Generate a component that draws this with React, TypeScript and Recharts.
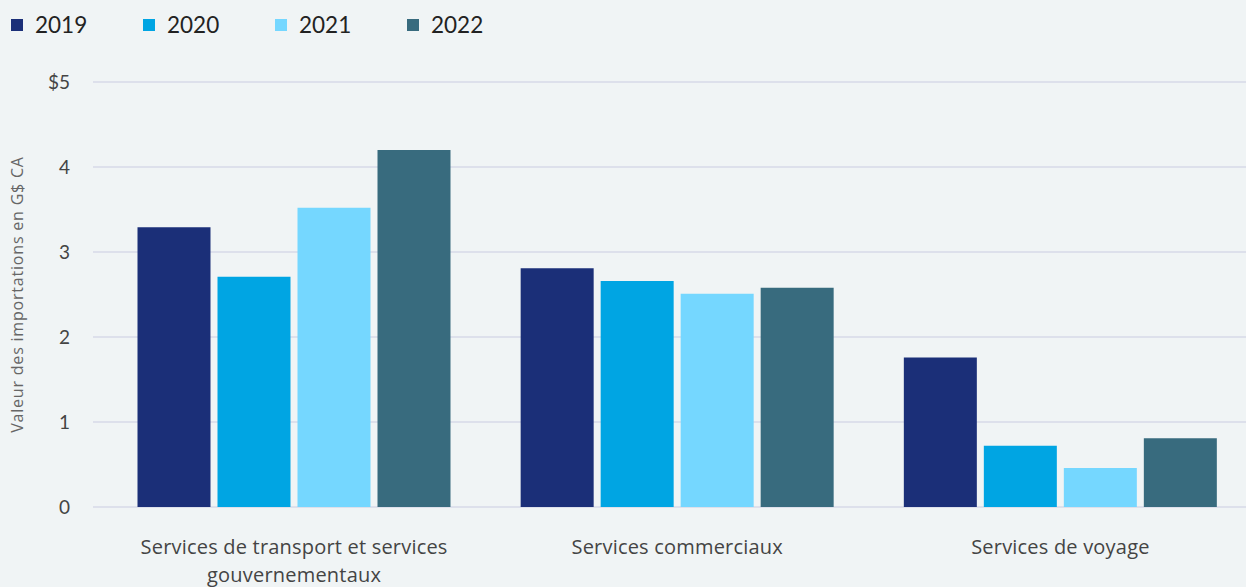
import React from 'react'
import { BarChart, Bar, XAxis, YAxis, CartesianGrid, Label, Text } from 'recharts'

const categories = ['Services de transport et services gouvernementaux', 'Services commerciaux', 'Services de voyage']
const years = ['2019', '2020', '2021', '2022']
const v2019 = [3.29, 2.81, 1.76]
const v2020 = [2.71, 2.66, 0.72]
const v2021 = [3.52, 2.51, 0.46]
const v2022 = [4.2, 2.58, 0.81]
const yTicks = [0, 1, 2, 3, 4, 5]
const colors = ['#1b2f78', '#00a5e3', '#75d7ff', '#386b7e']

const data = categories.map((c, i) => ({
  name: c, y2019: v2019[i], y2020: v2020[i], y2021: v2021[i], y2022: v2022[i],
}))

const font = 'Lato, "Open Sans", sans-serif'
const labelFont = '"Open Sans", sans-serif'

function CatTick(props: any) {
  const { x, y, payload } = props
  return <Text x={x} y={y + 25} width={345} textAnchor="middle" verticalAnchor="start"
    lineHeight={28} style={{ fontSize: 20, fontFamily: labelFont, letterSpacing: 0.2 }} fill="#444">{payload.value}</Text>
}

export default function App() {
  return <div style={{ position: 'fixed', left: 0, top: 0, width: 1246, height: 587, background: '#f0f4f5', overflow: 'hidden', fontFamily: font }}>
    <div style={{ position: 'absolute', left: 11, top: 10, display: 'flex' }}>
      {years.map((y, i) => <div key={y} style={{ width: 132, display: 'flex', alignItems: 'center' }}>
        <span style={{ width: 12, height: 12, background: colors[i], marginRight: 12 }} />
        <span style={{ fontSize: 22.5, color: '#222', lineHeight: '30px' }}>{y}</span>
      </div>)}
    </div>
    <BarChart width={1252} height={587} data={data} margin={{ top: 82, right: 0, bottom: 0, left: 0 }}
      barSize={73} barGap={7}>
      <CartesianGrid vertical={false} stroke="#dde0eb" strokeWidth={2} />
      <XAxis dataKey="name" height={80} axisLine={false} tickLine={false} interval={0}
        padding={{ left: 9.5, right: 0 }} tick={<CatTick />} />
      <YAxis width={93} domain={[0, 5]} ticks={yTicks} axisLine={false} tickLine={false} tickSize={0} tickMargin={23}
        tickFormatter={(v: number) => v === 5 ? '$5' : String(v)}
        tick={{ fontSize: 19, fill: '#444', fontFamily: font }}>
        <Label value="Valeur des importations en G$ CA" angle={-90} position="insideLeft" offset={17}
          style={{ fontSize: 16, fill: '#666', fontFamily: labelFont, textAnchor: 'middle', letterSpacing: 0.8 }} />
      </YAxis>
      {years.map((y, i) => <Bar key={y} dataKey={'y' + y} name={y} fill={colors[i]} isAnimationActive={false} />)}
    </BarChart>
  </div>
}
